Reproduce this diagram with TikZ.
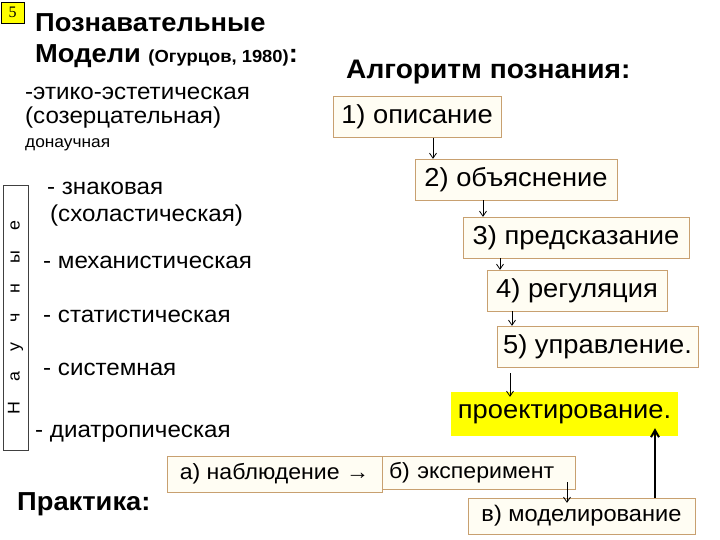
\documentclass[tikz,border=0pt]{standalone}
\usepackage{fontspec}
\setmainfont{Liberation Sans}[FakeStretch=1.05]
\newfontfamily\numfont{Liberation Serif}
\usetikzlibrary{positioning,
        arrows.meta}
\definecolor{boxline}{HTML}{C8A070}
\definecolor{boxfill}{HTML}{FFFDF3}
\definecolor{markyellow}{HTML}{FFFF00}

\begin{document}
\begin{tikzpicture}[x=1pt,y=-1pt,
        txt/.style={anchor=base west, inner sep=0pt, font=\fontsize{23}{26}\selectfont},
        head/.style={anchor=base west, inner sep=0pt, font=\bfseries\fontsize{26}{29}\selectfont},
        algbox/.style={draw=boxline, fill=boxfill, inner sep=0pt,
                minimum height=41pt, font=\fontsize{26}{29}\selectfont},
        pbox/.style={algbox, minimum height=35pt, font=\fontsize{22}{25}\selectfont},
        arr/.style={-{Straight Barb[length=5pt,width=7pt]}, line width=0.8pt}]
        \useasboundingbox (0,0) rectangle (720,540);

        \node [draw, fill=markyellow, anchor=north west, minimum width=23pt, minimum height=21pt,
                inner sep=0pt, font=\numfont\fontsize{16}{18}\selectfont] (num) at (1,2) {5};
        \node [head] (t1) at (35,32) {Познавательные};
        \node [head] (t2) at (35,63) {Модели {\fontsize{17.5}{20}\selectfont (Огурцов, 1980)}:};
        \node [txt] (m1) at (25,100) {-этико-эстетическая};
        \node [txt] (m1b) at (25,124) {(созерцательная)};
        \node [txt, font=\fontsize{16.5}{18}\selectfont] (pre) at (25,148) {донаучная};

        \node [draw=black!75, fill=white, rotate=90, minimum width=265pt, minimum height=25pt,
                inner sep=0pt, font=\fontsize{17}{19}\selectfont] (nauch) at (15.5,317.5)
                {\spaceskip=20pt Н а у ч н ы е};
        \node [txt] (m2) at (47,195) {- знаковая};
        \node [txt] (m2b) at (50,222) {(схоластическая)};
        \node [txt] (m3) at (43,268) {- механистическая};
        \node [txt] (m4) at (43,322) {- статистическая};
        \node [txt] (m5) at (43,375) {- системная};
        \node [txt] (m6) at (35,437) {- диатропическая};

        \node [head, font=\bfseries\fontsize{26.8}{29}\selectfont] (alg) at (346,79) {Алгоритм познания:};
        \node [algbox, minimum width=168pt] (1) at (417,117) {1) описание};
        \node [algbox, minimum width=202pt] (2) at (516,179.5) {2) объяснение};
        \node [algbox, minimum width=226pt] (3) at (576,237.5) {3) предсказание};
        \node [algbox, minimum width=180pt] (4) at (577,290.5) {4) регуляция};
        \node [algbox, minimum width=201pt] (5) at (597.5,346.5) {5) управление.};
        \node [algbox, draw=none, fill=markyellow, minimum width=227pt,
                minimum height=44pt] (proj) at (564.5,414) {проектирование.};

        \node [head] (prak) at (17,510) {Практика:};
        \node [pbox, minimum width=215pt, minimum height=36pt] (a) at (274.5,474) {а) наблюдение →};
        \node [pbox, minimum width=193pt, minimum height=33pt, text width=179pt, align=left]
                (b) at (478.5,472.5) {б) эксперимент};
        \node [pbox, minimum width=227pt, minimum height=36pt,
                font=\fontsize{22.5}{25}\selectfont] (c) at (581.5,516) {в) моделирование};

        \coordinate (x12) at (433,0);
        \coordinate (x23) at (483,0);
        \coordinate (x34) at (500,0);
        \coordinate (x45) at (512,0);
        \coordinate (x5p) at (510,0);
        \coordinate (xbc) at (567,0);
        \coordinate (xcp) at (655,0);

        \draw [arr] (1.south -| x12) -- (2.north -| x12);
        \draw [arr] (2.south -| x23) -- (3.north -| x23);
        \draw [arr] (3.south -| x34) -- (4.north -| x34);
        \draw [arr] (4.south -| x45) -- (5.north -| x45);
        \draw [arr, shorten <=6pt, shorten >=-5pt] (5.south -| x5p) -- (proj.north -| x5p);
        \draw [arr, shorten <=-7pt, shorten >=-5pt] (b.south -| xbc) -- (c.north -| xbc);
        \draw [-{Straight Barb[length=7pt,width=8pt]}, line width=2pt, shorten >=-8pt]
                (c.north -| xcp) -- (proj.south -| xcp);
    \end{tikzpicture}
\end{document}
